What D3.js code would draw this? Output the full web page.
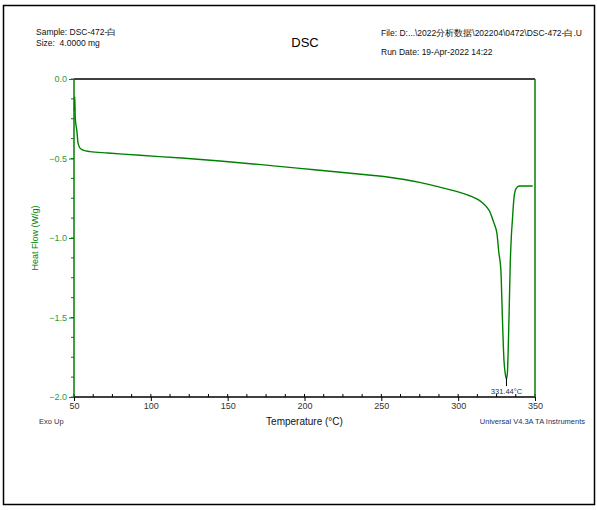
<!DOCTYPE html>
<html>
<head>
<meta charset="utf-8">
<script src="https://cdn.jsdelivr.net/npm/d3@7"></script>
<style>
  body { margin: 0; background: #fff; }
  svg text { font-family: "Liberation Sans", Arial, sans-serif; white-space: pre; }
</style>
</head>
<body>
<script>
// DSC trace: temperature (°C) and heat flow (W/g)
var temperature = [50.2, 50.5, 50.8, 51.3, 51.8, 52.6, 53.9, 55.9, 60.4, 72, 93, 120, 145, 170, 197,
    220, 240, 255, 265, 275, 288, 295, 301, 306, 310, 313, 316, 318.5, 320.7, 322.6, 324, 325.2,
    326.5, 327.8, 328.5, 329.1, 329.8, 330.6, 331.44, 332.1, 332.7, 333.3, 333.9, 334.6, 335.3,
    336.2, 337.2, 338.5, 340, 348.5];
var heatFlow = [-0.20, -0.11, -0.24, -0.29, -0.32, -0.40, -0.435, -0.447, -0.457, -0.465, -0.480,
    -0.497, -0.516, -0.537, -0.562, -0.583, -0.602, -0.618, -0.632, -0.650, -0.680, -0.697, -0.713,
    -0.729, -0.744, -0.759, -0.780, -0.805, -0.836, -0.887, -0.925, -0.969, -1.094, -1.201, -1.409,
    -1.597, -1.767, -1.85, -1.887, -1.84, -1.65, -1.41, -1.16, -0.99, -0.887, -0.76, -0.70, -0.68,
    -0.673, -0.673];
var xTicks = [50, 100, 150, 200, 250, 300, 350];
var yTicks = [0, -0.5, -1.0, -1.5, -2.0];
var peakT = 331.44, peakY = -1.887;

var W = 597, H = 510;
var margin = {top: 79, right: 62, bottom: 113, left: 74},
    width = W - margin.left - margin.right,
    height = H - margin.top - margin.bottom;

var green = "#008000";

var svg = d3.select("body").append("svg")
    .attr("width", W)
    .attr("height", H);

// outer frame
svg.append("rect")
    .attr("x", 3.5).attr("y", 5.5)
    .attr("width", 591).attr("height", 499)
    .attr("fill", "none").attr("stroke", "#000").attr("stroke-width", 1.5);

// header
var head = svg.append("g").style("font-size", "8.5px").attr("fill", "#111");
head.append("text").attr("x", 36).attr("y", 35).text("Sample: DSC-472-白");
head.append("text").attr("x", 36).attr("y", 46).text("Size:  4.0000 mg");
head.append("text").attr("x", 381).attr("y", 36).text("File: D:...\\2022分析数据\\202204\\0472\\DSC-472-白.U");
head.append("text").attr("x", 381).attr("y", 55).text("Run Date: 19-Apr-2022 14:22");
svg.append("text").attr("x", 305).attr("y", 47)
    .attr("text-anchor", "middle").style("font-size", "13px").text("DSC");

var g = svg.append("g")
    .attr("transform", "translate(" + margin.left + "," + margin.top + ")");

var x = d3.scaleLinear().domain([50, 350]).range([0, width]);
var y = d3.scaleLinear().domain([0, -2]).range([0, height]);

// minor ticks
var xMinor = d3.range(50, 350.01, 12.5);
var yMinor = d3.range(0, -2.001, -0.125);

g.selectAll(".xminor").data(xMinor).enter().append("line")
    .attr("x1", function(d) { return x(d); }).attr("x2", function(d) { return x(d); })
    .attr("y1", height).attr("y2", height - 3)
    .attr("stroke", "#000");
g.selectAll(".yminor").data(yMinor).enter().append("line")
    .attr("x1", 0).attr("x2", -3)
    .attr("y1", function(d) { return y(d); }).attr("y2", function(d) { return y(d); })
    .attr("stroke", green);

// x axis
var xAxis = g.append("g")
    .attr("transform", "translate(0," + height + ")")
    .call(d3.axisBottom(x).tickValues(xTicks).tickSize(4).tickSizeOuter(0).tickPadding(2));
xAxis.select(".domain").remove();
xAxis.selectAll("line").attr("stroke", "#000");
xAxis.selectAll("text").style("font-size", "9px").attr("fill", "#333");

// y axis
var yAxis = g.append("g")
    .call(d3.axisLeft(y).tickValues(yTicks).tickFormat(d3.format(".1f")).tickSize(5).tickSizeOuter(0).tickPadding(2));
yAxis.select(".domain").remove();
yAxis.selectAll("line").attr("stroke", green);
yAxis.selectAll("text").style("font-size", "9px").attr("fill", "#2a9a3a");

// frame of plot: top/bottom black, left/right green
g.append("line").attr("x1", 0).attr("x2", width).attr("y1", 0).attr("y2", 0)
    .attr("stroke", "#000").attr("stroke-width", 1.5);
g.append("line").attr("x1", 0).attr("x2", width).attr("y1", height).attr("y2", height)
    .attr("stroke", "#000").attr("stroke-width", 1.5);
g.append("line").attr("x1", 0).attr("x2", 0).attr("y1", 0).attr("y2", height)
    .attr("stroke", green).attr("stroke-width", 1.5);
g.append("line").attr("x1", width).attr("x2", width).attr("y1", 0).attr("y2", height)
    .attr("stroke", green).attr("stroke-width", 1.5);

// curve
var data = temperature.map(function(t, i) { return {t: t, v: heatFlow[i]}; });
var line = d3.line()
    .curve(d3.curveMonotoneX)
    .x(function(d) { return x(d.t); })
    .y(function(d) { return y(d.v); });
g.append("path")
    .datum(data)
    .attr("fill", "none")
    .attr("stroke", green)
    .attr("stroke-width", 1.4)
    .attr("d", line);

// peak marker
g.append("line")
    .attr("x1", x(peakT)).attr("x2", x(peakT))
    .attr("y1", y(peakY) - 1).attr("y2", y(peakY) + 7)
    .attr("stroke", "#000").attr("stroke-width", 1);
g.append("text")
    .attr("x", x(peakT)).attr("y", y(peakY) + 15)
    .attr("text-anchor", "middle")
    .style("font-size", "7.5px").attr("fill", "#223355")
    .text(peakT + "°C");

// axis titles
g.append("text")
    .attr("x", width / 2).attr("y", height + 28)
    .attr("text-anchor", "middle").style("font-size", "10px").attr("fill", "#111")
    .text("Temperature (°C)");
g.append("text")
    .attr("transform", "translate(-36," + (height / 2) + ") rotate(-90)")
    .attr("text-anchor", "middle").style("font-size", "9px").attr("fill", green)
    .text("Heat Flow (W/g)");

svg.append("text").attr("x", 39).attr("y", 424)
    .style("font-size", "7.5px").attr("fill", "#333").text("Exo Up");
svg.append("text").attr("x", 585).attr("y", 424).attr("text-anchor", "end")
    .style("font-size", "7.5px").attr("fill", "#223366").text("Universal V4.3A TA Instruments");
</script>
</body>
</html>
